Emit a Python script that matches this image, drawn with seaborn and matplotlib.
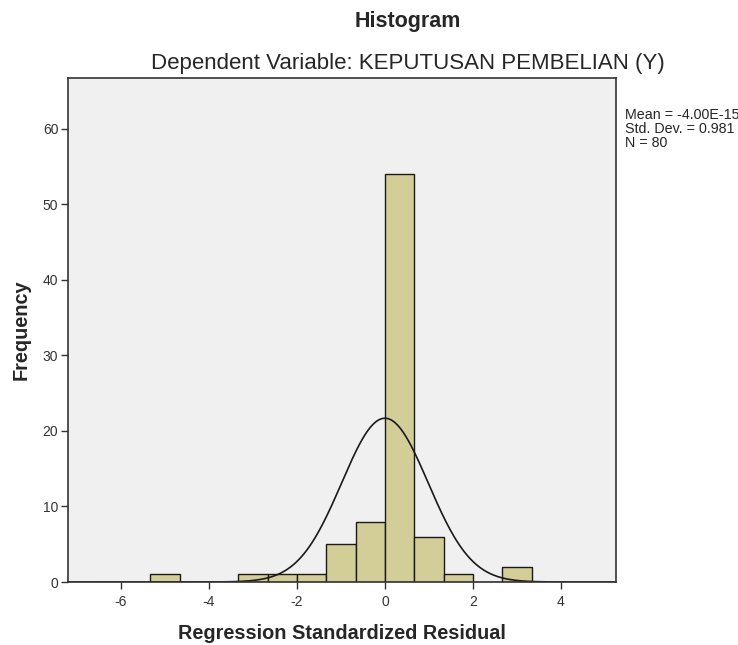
import numpy as np
import pandas as pd
import matplotlib
matplotlib.use('Agg')
import matplotlib.pyplot as plt
import seaborn as sns

# binned residuals (bin width 2/3, bins aligned on 0)
bin_centers = [-5.0, -13/3, -11/3, -3.0, -7/3, -5/3, -1.0, -1/3, 1/3, 1.0, 5/3, 7/3, 3.0]
counts = [1, 0, 0, 1, 1, 1, 5, 8, 54, 6, 1, 0, 2]
bin_width = 2/3
res_mean = -4.00e-15
res_sd = 0.981
n_obs = 80

x_ticks = [-6, -4, -2, 0, 2, 4]
y_ticks = [0, 10, 20, 30, 40, 50, 60]

sns.set_style('white')
plt.rcParams['font.family'] = ['Liberation Sans', 'DejaVu Sans']
plt.rcParams['axes.unicode_minus'] = False

df = pd.DataFrame({'resid': bin_centers, 'freq': counts})
lo = bin_centers[0] - bin_width / 2
hi = bin_centers[-1] + bin_width / 2

fig = plt.figure(figsize=(7.38, 6.45), dpi=100)
ax = fig.add_axes([68/738, 63/645, 548/738, 504/645])
ax.set_facecolor('#f0f0f0')

sns.histplot(data=df, x='resid', weights='freq', binwidth=bin_width, binrange=(lo, hi),
             color='#d3ce97', edgecolor='#1a1a1a', linewidth=1.0, alpha=1, ax=ax)

# normal curve scaled to counts
xs = np.linspace(-7.2, 5.25, 400)
ys = n_obs * bin_width * np.exp(-0.5 * ((xs - res_mean) / res_sd) ** 2) / (res_sd * np.sqrt(2 * np.pi))
sns.lineplot(x=xs, y=ys, color='#1a1a1a', linewidth=1.2, ax=ax)

ax.set_xlim(-7.2, 5.25)
ax.set_ylim(0, 66.75)
ax.set_xticks(x_ticks)
ax.set_yticks(y_ticks)
ax.tick_params(axis='both', direction='out', length=5, width=1, color='#333333',
               labelsize=10, labelcolor='#333333', pad=2, bottom=True, left=True)
ax.tick_params(axis='x', pad=4)
for s in ax.spines.values():
    s.set_color('#333333')
    s.set_linewidth(1.2)

ax.set_xlabel('Regression Standardized Residual', fontsize=14.3, fontweight='bold', labelpad=11)
ax.set_ylabel('Frequency', fontsize=14.3, fontweight='bold', labelpad=9)

fig.text(408/738, 1 - 21/645, 'Histogram', ha='center', va='center', fontsize=15.5, fontweight='bold')
fig.text(408/738, 1 - 63/645, 'Dependent Variable: KEPUTUSAN PEMBELIAN (Y)', ha='center', va='center',
         fontsize=16)

fig.text(625/738, 1 - 115/645, 'Mean = -4.00E-15', ha='left', va='center', fontsize=10.3)
fig.text(625/738, 1 - 129/645, f'Std. Dev. = {res_sd}', ha='left', va='center', fontsize=10.3)
fig.text(625/738, 1 - 143/645, f'N = {n_obs}', ha='left', va='center', fontsize=10.3)

fig.savefig('out.png', dpi=100, facecolor='white')
